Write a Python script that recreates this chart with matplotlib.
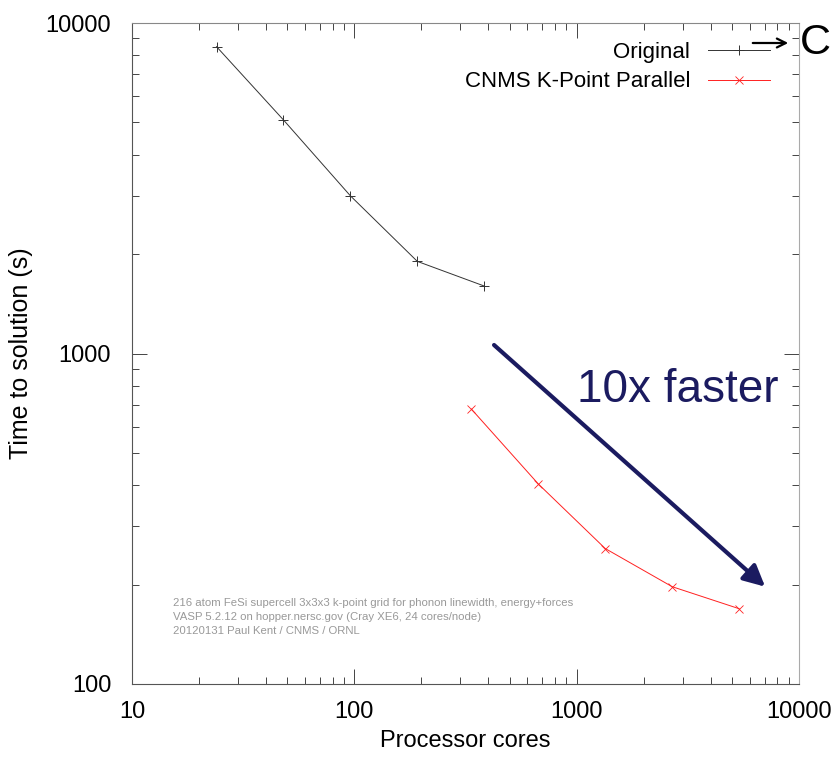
import numpy as np
import matplotlib
matplotlib.use("Agg")
from matplotlib import pyplot as plt
from matplotlib.ticker import LogLocator, NullFormatter, FixedLocator, FixedFormatter

# data
orig_cores = [24, 48, 96, 192, 384]
orig_time = [8480, 5090, 3000, 1900, 1600]
kpar_cores = [336, 672, 1344, 2688, 5376]
kpar_time = [679, 403, 257, 197, 169]

xticks = [10, 100, 1000, 10000]
yticks = [100, 1000, 10000]
notes = ["216 atom FeSi supercell 3x3x3 k-point grid for phonon linewidth, energy+forces",
         "VASP 5.2.12 on hopper.nersc.gov (Cray XE6, 24 cores/node)",
         "20120131 Paul Kent / CNMS / ORNL"]

plt.rcParams['font.family'] = ["Liberation Sans", "DejaVu Sans"]

W, H = 836, 775
fig = plt.figure(figsize=(W / 100, H / 100), dpi=100)
ax = fig.add_axes([132 / W, 1 - 684 / H, (799 - 132) / W, (684 - 23) / H])

ax.plot(orig_cores, orig_time, color="#333333", lw=0.7, marker="+", ms=7, mew=0.7, label="Original")
ax.plot(kpar_cores, kpar_time, color="#ff2020", lw=0.7, marker="x", ms=6, mew=0.6, label="CNMS K-Point Parallel")

ax.set_xscale("log")
ax.set_yscale("log")
ax.set_xlim(10, 10000)
ax.set_ylim(100, 10000)
ax.xaxis.set_major_locator(FixedLocator(xticks))
ax.xaxis.set_major_formatter(FixedFormatter([str(v) for v in xticks]))
ax.yaxis.set_major_locator(FixedLocator(yticks))
ax.yaxis.set_major_formatter(FixedFormatter([str(v) for v in yticks]))
for a in (ax.xaxis, ax.yaxis):
    a.set_minor_locator(LogLocator(base=10, subs=np.arange(2, 10)))
    a.set_minor_formatter(NullFormatter())
ax.tick_params(which="both", direction="in", top=True, right=True, colors="#444444",
               labelcolor="black", labelsize=17, width=0.7)
ax.tick_params(axis="x", which="major", length=11, pad=12)
ax.tick_params(axis="y", which="major", length=11, pad=15)
ax.tick_params(which="minor", length=5)
for s in ax.spines.values():
    s.set_color("#555555")
    s.set_linewidth(0.8)
ax.spines["right"].set_color("#aaaaaa")
ax.spines["top"].set_color("#888888")

ax.set_xlabel("Processor cores", fontsize=17, va="center")
ax.xaxis.set_label_coords(0.5, -(741 - 684) / 661)
ax.set_ylabel("Time to solution (s)", fontsize=18, va="center")
ax.yaxis.set_label_coords(-(132 - 21) / 667, 0.5)

ax.legend(loc="upper right", bbox_to_anchor=(0.957, 0.972), markerfirst=False, frameon=False,
          fontsize=16, handlelength=2.8, handletextpad=0.8, labelspacing=0.4,
          borderpad=0, borderaxespad=0)

for i, line in enumerate(notes):
    ax.text((173 - 132) / 667, (684 - 603 - i * 14) / 661, line, transform=ax.transAxes,
            fontsize=8.2, color="#999999", va="center", ha="left")

ax.annotate("", xy=(7040, 197), xytext=(425, 1061),
            arrowprops=dict(arrowstyle="-|>", color="#1b1b60", lw=3, mutation_scale=32,
                            shrinkA=0, shrinkB=0))
ax.text((577 - 132) / 667, (684 - 401.7) / 661, "10x faster", transform=ax.transAxes,
        fontsize=33, color="#1b1b60", ha="left", va="baseline")

# cut-off slide text at the top right
fig.add_artist(matplotlib.patches.FancyArrowPatch((750 / W, 1 - 43 / H), (791 / W, 1 - 43 / H),
               transform=fig.transFigure, arrowstyle="->", mutation_scale=16, lw=1.6, color="black"))
fig.text(800 / W, 1 - 43 / H, "C", fontsize=31, va="center", ha="left")

fig.savefig("out.png", dpi=100)
